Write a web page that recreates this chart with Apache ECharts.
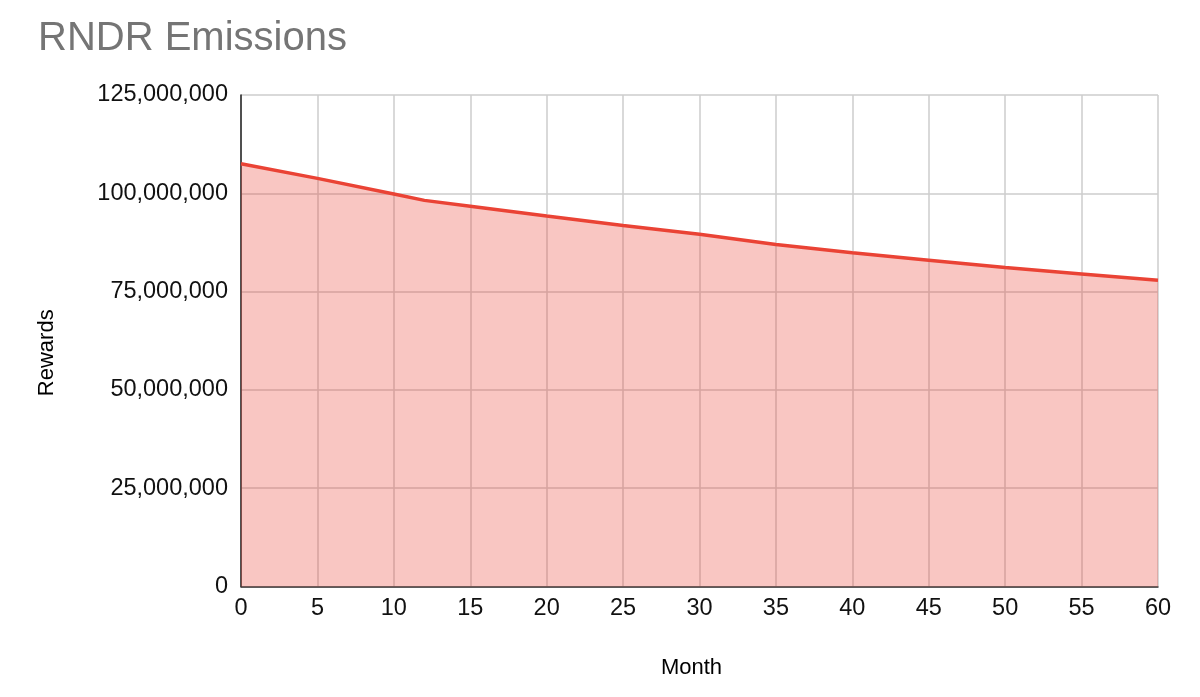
<!DOCTYPE html>
<html>
<head>
<meta charset="utf-8">
<script src="https://cdn.jsdelivr.net/npm/echarts@6/dist/echarts.min.js"></script>
<style>
html,body{margin:0;padding:0;background:#fff;}
#chart{width:1200px;height:697px;}
</style>
</head>
<body>
<div id="chart"></div>
<script>
var titleText = "RNDR Emissions";
var xName = "Month";
var yName = "Rewards";
var months = [0, 5, 10, 12, 15, 20, 25, 30, 35, 40, 45, 50, 55, 60];
var rewards = [107.5e6, 103.8e6, 99.8e6, 98.2e6, 96.7e6, 94.2e6, 91.8e6, 89.6e6, 87.0e6, 84.9e6, 83.0e6, 81.1e6, 79.5e6, 77.9e6];
var xTicks = [0, 5, 10, 15, 20, 25, 30, 35, 40, 45, 50, 55, 60];
var yTicks = [0, 25e6, 50e6, 75e6, 100e6, 125e6];

var seriesData = months.map(function (m, i) { return [m, rewards[i]]; });
var font = "'Liberation Sans', Arial, sans-serif";

var chart = echarts.init(document.getElementById('chart'));
chart.setOption({
  animation: false,
  backgroundColor: '#ffffff',
  title: {
    text: titleText,
    left: 33,
    top: 14,
    textStyle: { fontFamily: font, fontSize: 40, fontWeight: 'normal', color: '#757575' }
  },
  grid: { left: 241, right: 42, top: 95, bottom: 110.5, containLabel: false },
  xAxis: {
    type: 'value',
    min: xTicks[0],
    max: xTicks[xTicks.length - 1],
    interval: 5,
    name: xName,
    nameLocation: 'middle',
    nameGap: 70,
    nameTextStyle: { fontFamily: font, fontSize: 22, color: '#000', padding: [0, 16, 0, 0] },
    axisLine: { show: true, onZero: false, lineStyle: { color: '#333', width: 1.5 } },
    axisTick: { show: false },
    axisLabel: { fontFamily: font, fontSize: 23.5, color: '#111', margin: 10 },
    splitLine: { show: true, lineStyle: { color: '#cccccc', width: 1.5 } }
  },
  yAxis: {
    type: 'value',
    min: yTicks[0],
    max: yTicks[yTicks.length - 1],
    interval: 25e6,
    name: yName,
    nameLocation: 'middle',
    nameGap: 183,
    nameRotate: 90,
    nameTextStyle: { fontFamily: font, fontSize: 22, color: '#000', padding: [0, 24, 0, 0] },
    axisLine: { show: true, lineStyle: { color: '#222', width: 1.5 } },
    axisTick: { show: false },
    axisLabel: {
      fontFamily: font, fontSize: 23.5, color: '#111', margin: 13,
      formatter: function (v) { return v.toLocaleString('en-US'); }
    },
    splitLine: { show: true, lineStyle: { color: '#cccccc', width: 1.5 } }
  },
  series: [{
    type: 'line',
    data: seriesData,
    showSymbol: false,
    symbol: 'none',
    lineStyle: { color: '#EA4335', width: 3.5 },
    areaStyle: { color: 'rgba(234,67,53,0.3)', opacity: 1 },
    z: 3
  }]
});
</script>
</body>
</html>
